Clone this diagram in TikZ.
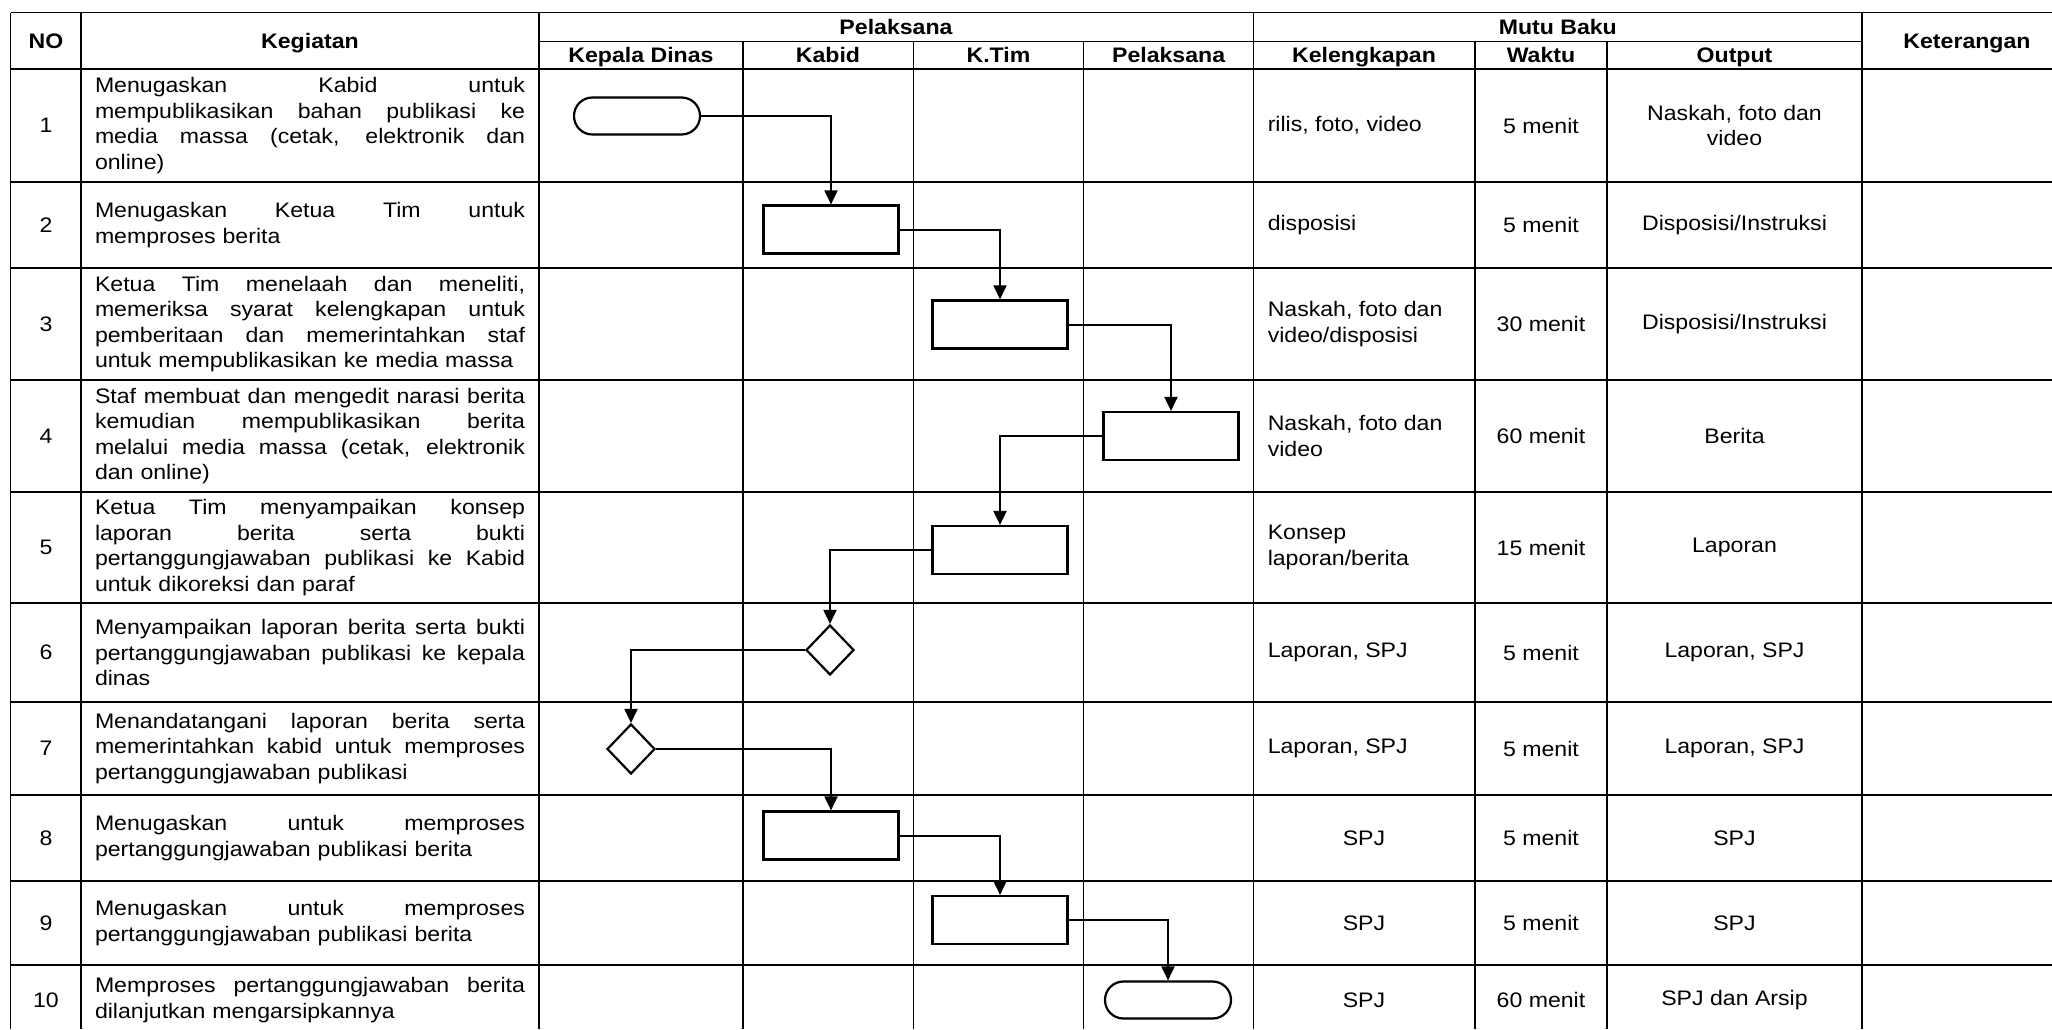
\documentclass[tikz,border=0pt]{standalone}
\usepackage{fontspec}
\setmainfont{Liberation Sans}[FakeStretch=1.1]
\usepackage{tikz}
\usetikzlibrary{arrows.meta,shapes.geometric}

\newcommand{\jline}[1]{{\spaceskip=0pt\xspaceskip=0pt\makebox[215pt][s]{#1}}\\}

\tikzset{
  terminal/.style={draw,line width=1.1pt,rounded corners=9.2pt,minimum width=63pt,minimum height=18.5pt,inner sep=0pt},
  proses/.style={draw,line width=1.1pt,minimum width=67.5pt,minimum height=24pt,inner sep=0pt},
  keputusan/.style={draw,diamond,line width=1.1pt,minimum width=24pt,minimum height=25pt,inner sep=0pt},
  alur/.style={line width=1pt,-{Triangle[length=7pt,width=6.5pt]}},
  kegiatan/.style={text width=215pt,align=left,inner sep=0pt},
  judul/.style={anchor=base,font=\fontsize{10.5pt}{12.75pt}\selectfont\bfseries},
}

\begin{document}
\begin{tikzpicture}[x=0.5pt,y=-0.5pt,line width=0.75pt,inner sep=0pt,
  font=\fontsize{10.5pt}{12.75pt}\selectfont]
\useasboundingbox (0,0) rectangle (2052,1029);

% table grid
\draw (10.5,12.5) -- (2052,12.5);
\draw (539,41.5) -- (1862,41.5);
\foreach \y in {69,182,268,380,492,603,702,795,881,965}
  \draw (10.5,\y) -- (2052,\y);
\foreach \x in {10.5,81,539,1253.7,1862}
  \draw (\x,12.5) -- (\x,1029);
\foreach \x in {743,913.5,1083.6,1475,1607}
  \draw (\x,41.5) -- (\x,1029);

% headers
\node[judul] (hno) at (46,48.5) {NO};
\node[judul] (hkeg) at (310,48.5) {Kegiatan};
\node[judul] (hpel) at (896,34.5) {Pelaksana};
\node[judul] (hkd) at (641,62.5) {Kepala Dinas};
\node[judul] (hkabid) at (828,62.5) {Kabid};
\node[judul] (hktim) at (998.5,62.5) {K.Tim};
\node[judul] (hstaf) at (1168.6,62.5) {Pelaksana};
\node[judul] (hmutu) at (1557.8,34.5) {Mutu Baku};
\node[judul] (hleng) at (1364,62.5) {Kelengkapan};
\node[judul] (hwaktu) at (1541,62.5) {Waktu};
\node[judul] (hout) at (1734.5,62.5) {Output};
\node[judul] (hket) at (1967,48.5) {Keterangan};

% nomor dan waktu
\foreach \n/\y/\w in {1/125.5/5,2/225/5,3/324/30,4/436/60,5/547.5/15,
    6/652.5/5,7/748.5/5,8/838/5,9/923/5,10/1000/60}{
  \node (no\n) at (46,\y) {\n};
  \node (wk\n) at (1541,\y) {\w\ menit};
}

% kegiatan
\node[kegiatan] (keg1) at (310,125.5) {\jline{Menugaskan Kabid untuk}\jline{mempublikasikan bahan publikasi ke}\jline{media massa (cetak, elektronik dan}online)};
\node[kegiatan] (keg2) at (310,225) {\jline{Menugaskan Ketua Tim untuk}memproses berita};
\node[kegiatan] (keg3) at (310,324) {\jline{Ketua Tim menelaah dan meneliti,}\jline{memeriksa syarat kelengkapan untuk}\jline{pemberitaan dan memerintahkan staf}untuk mempublikasikan ke media massa};
\node[kegiatan] (keg4) at (310,436) {\jline{Staf membuat dan mengedit narasi berita}\jline{kemudian mempublikasikan berita}\jline{melalui media massa (cetak, elektronik}dan online)};
\node[kegiatan] (keg5) at (310,547.5) {\jline{Ketua Tim menyampaikan konsep}\jline{laporan berita serta bukti}\jline{pertanggungjawaban publikasi ke Kabid}untuk dikoreksi dan paraf};
\node[kegiatan] (keg6) at (310,652.5) {\jline{Menyampaikan laporan berita serta bukti}\jline{pertanggungjawaban publikasi ke kepala}dinas};
\node[kegiatan] (keg7) at (310,748.5) {\jline{Menandatangani laporan berita serta}\jline{memerintahkan kabid untuk memproses}pertanggungjawaban publikasi};
\node[kegiatan] (keg8) at (310,838) {\jline{Menugaskan untuk memproses}pertanggungjawaban publikasi berita};
\node[kegiatan] (keg9) at (310,923) {\jline{Menugaskan untuk memproses}pertanggungjawaban publikasi berita};
\node[kegiatan] (keg10) at (310,1000) {\jline{Memproses pertanggungjawaban berita}dilanjutkan mengarsipkannya};

% kelengkapan
\node[anchor=west] (lk1) at (1267,125.5) {rilis, foto, video};
\node[anchor=west] (lk2) at (1267,225) {disposisi};
\node[anchor=west,align=left] (lk3) at (1267,324) {Naskah, foto dan\\video/disposisi};
\node[anchor=west,align=left] (lk4) at (1267,436) {Naskah, foto dan\\video};
\node[anchor=west,align=left] (lk5) at (1267,547.5) {Konsep\\laporan/berita};
\node[anchor=west] (lk6) at (1267,652.5) {Laporan, SPJ};
\node[anchor=west] (lk7) at (1267,748.5) {Laporan, SPJ};
\node (lk8) at (1364,838) {SPJ};
\node (lk9) at (1364,923) {SPJ};
\node (lk10) at (1364,1000) {SPJ};

% output
\node[align=center] (out1) at (1734.5,125.5) {Naskah, foto dan\\video};
\node (out2) at (1734.5,225) {Disposisi/Instruksi};
\node (out3) at (1734.5,324) {Disposisi/Instruksi};
\node (out4) at (1734.5,436) {Berita};
\node (out5) at (1734.5,547.5) {Laporan};
\node (out6) at (1734.5,652.5) {Laporan, SPJ};
\node (out7) at (1734.5,748.5) {Laporan, SPJ};
\node (out8) at (1734.5,838) {SPJ};
\node (out9) at (1734.5,923) {SPJ};
\node (out10) at (1734.5,1000) {SPJ dan Arsip};

% bagan alir
\node[terminal] (s1) at (637,116) {};
\node[proses] (s2) at (831,229.5) {};
\node[proses] (s3) at (1000,324.5) {};
\node[proses] (s4) at (1171,436) {};
\node[proses] (s5) at (1000,550) {};
\node[keputusan] (s6) at (830,650) {};
\node[keputusan] (s7) at (631,749) {};
\node[proses] (s8) at (831,835.5) {};
\node[proses] (s9) at (1000,920) {};
\node[terminal] (s10) at (1168,1000) {};

\draw[alur] (s1.east) -| (s2.north);
\draw[alur] (s2.east) -| (s3.north);
\draw[alur] (s3.east) -| (s4.north);
\draw[alur] (s4.west) -| (s5.north);
\draw[alur] (s5.west) -| (s6.north);
\draw[alur] (s6.west) -| (s7.north);
\draw[alur] (s7.east) -| (s8.north);
\draw[alur] (s8.east) -| (s9.north);
\draw[alur] (s9.east) -| (s10.north);
\end{tikzpicture}
\end{document}
